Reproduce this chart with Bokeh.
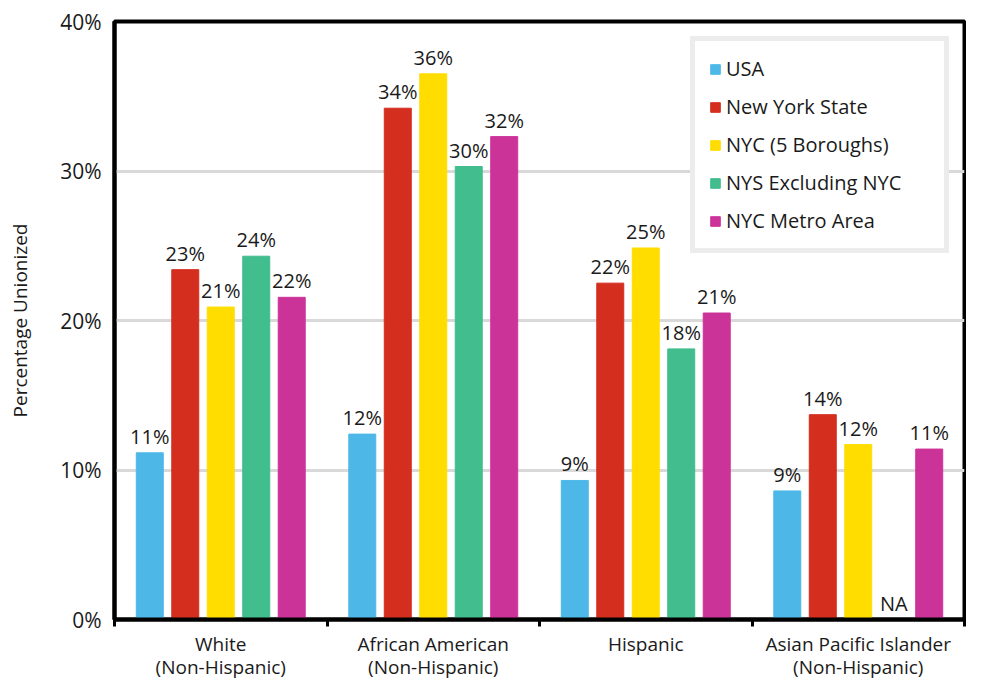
from bokeh.plotting import figure
from bokeh.models import FixedTicker, Range1d, PrintfTickFormatter, ColumnDataSource, LinearAxis
from bokeh.core.properties import value
from bokeh.embed import file_html
from bokeh.resources import INLINE

group_line1 = ["White", "African American", "Hispanic", "Asian Pacific Islander"]
group_line2 = ["(Non-Hispanic)", "(Non-Hispanic)", "", "(Non-Hispanic)"]
series = ["USA", "New York State", "NYC (5 Boroughs)", "NYS Excluding NYC", "NYC Metro Area"]
colors = ["#4DB8E8", "#D42E1F", "#FFDD00", "#41BD8E", "#CC3399"]

usa = [11.15, 12.4, 9.3, 8.6]
nys = [23.4, 34.2, 22.5, 13.7]
nyc = [20.9, 36.5, 24.85, 11.7]
nys_excl = [24.3, 30.3, 18.1, None]
metro = [21.55, 32.3, 20.5, 11.4]

usa_lbl = ["11%", "12%", "9%", "9%"]
nys_lbl = ["23%", "34%", "22%", "14%"]
nyc_lbl = ["21%", "36%", "25%", "12%"]
nys_excl_lbl = ["24%", "30%", "18%", "NA"]
metro_lbl = ["22%", "32%", "21%", "11%"]

all_vals = [usa, nys, nyc, nys_excl, metro]
all_lbls = [usa_lbl, nys_lbl, nyc_lbl, nys_excl_lbl, metro_lbl]

FONT = "Open Sans"
TXT = "#1a1a1a"
step = 0.167
bw = 0.127

p = figure(width=966, height=682, x_range=Range1d(0, 4), y_range=Range1d(0, 40),
           output_backend="svg", toolbar_location=None,
           min_border_left=114, min_border_right=2, min_border_top=21, min_border_bottom=40)

for j, (vals, lbls, col, name) in enumerate(zip(all_vals, all_lbls, colors, series)):
    xs, tops = [], []
    lx, ly, lt = [], [], []
    for i, v in enumerate(vals):
        x = i + 0.5 + (j - 2) * step
        if v is not None:
            xs.append(x)
            tops.append(v)
            lx.append(x); ly.append(v); lt.append(lbls[i])
        else:
            lx.append(x); ly.append(0); lt.append(lbls[i])
    src = ColumnDataSource(dict(x=xs, top=tops))
    p.vbar(x="x", top="top", width=bw, source=src, fill_color=col, line_color=col,
           line_width=1, legend_label=name)
    lsrc = ColumnDataSource(dict(x=lx, y=ly, t=lt))
    p.text(x="x", y="y", text="t", source=lsrc, text_align="center", text_baseline="bottom",
           y_offset=-3, text_font=value(FONT), text_font_size="20px", text_color=TXT)

centers = [i + 0.5 for i in range(len(group_line1))]

# first axis: boundary ticks + first label line
xa = p.xaxis[0]
xa.ticker = FixedTicker(ticks=centers, minor_ticks=[0, 1, 2, 3, 4])
xa.major_label_overrides = {c: t for c, t in zip(centers, group_line1)}
xa.major_tick_line_color = None
xa.major_tick_out = 0
xa.major_tick_in = 0
xa.minor_tick_out = 7
xa.minor_tick_in = 0
xa.minor_tick_line_width = 3
xa.minor_tick_line_color = "black"
xa.axis_line_width = 4
xa.axis_line_color = "black"
xa.major_label_text_font = FONT
xa.major_label_text_font_size = "19px"
xa.major_label_text_color = TXT
xa.major_label_standoff = 4

# second axis: second label line
c2 = [c for c, t in zip(centers, group_line2) if t]
xb = LinearAxis(ticker=FixedTicker(ticks=c2, minor_ticks=[]),
                major_label_overrides={c: t for c, t in zip(centers, group_line2) if t},
                axis_line_color=None, major_tick_line_color=None, minor_tick_line_color=None,
                major_tick_out=0, major_tick_in=0, minor_tick_out=0, minor_tick_in=0,
                major_label_standoff=-6, major_label_text_font=FONT,
                major_label_text_font_size="19px", major_label_text_color=TXT)
p.add_layout(xb, "below")

ya = p.yaxis[0]
ya.ticker = FixedTicker(ticks=[0, 10, 20, 30, 40])
ya.formatter = PrintfTickFormatter(format="%d%%")
ya.major_tick_line_color = None
ya.major_tick_out = 0
ya.major_tick_in = 0
ya.minor_tick_line_color = None
ya.axis_line_width = 4
ya.axis_line_color = "black"
ya.major_label_text_font = FONT
ya.major_label_text_font_size = "21px"
ya.major_label_text_color = TXT
ya.major_label_standoff = 13
ya.axis_label = "Percentage Unionized"
ya.axis_label_text_font = FONT
ya.axis_label_text_font_size = "19px"
ya.axis_label_text_font_style = "normal"
ya.axis_label_text_color = TXT
ya.axis_label_standoff = 24

p.xgrid.grid_line_color = None
p.ygrid.ticker = FixedTicker(ticks=[10, 20, 30])
p.ygrid.grid_line_color = "#d9d9d9"
p.ygrid.grid_line_width = 3

p.outline_line_color = "black"
p.outline_line_width = 4
p.outline_line_alpha = 1

lg = p.legend[0]
lg.location = "top_right"
lg.margin = 15
lg.padding = 14
lg.spacing = 11
lg.border_line_color = "#d9d9d9"
lg.border_line_width = 5
lg.background_fill_color = "white"
lg.background_fill_alpha = 1
lg.label_text_font = FONT
lg.label_text_font_size = "20px"
lg.label_text_color = TXT
lg.label_height = 24
lg.label_width = 204
lg.glyph_width = 12
lg.glyph_height = 12
lg.label_standoff = 5

open("out.html", "w").write(file_html(p, INLINE))
